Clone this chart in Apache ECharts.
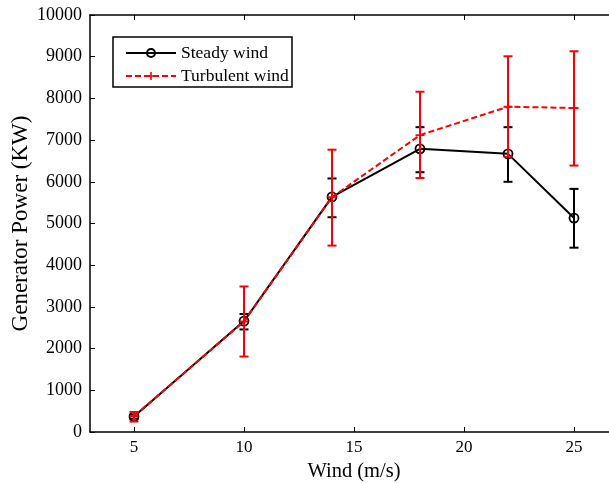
<!DOCTYPE html>
<html>
<head>
<meta charset="utf-8">
<script src="https://cdn.jsdelivr.net/npm/echarts@6/dist/echarts.min.js"></script>
<style>
  html, body { margin: 0; padding: 0; background: #fff; }
  #chart { width: 609px; height: 483px; }
</style>
</head>
<body>
<div id="chart"></div>
<script>
// wind speeds (m/s)
var winds = [5, 10, 14, 18, 22, 25]
// steady wind: mean power and error bar ends (KW)
var steadyPower = [370, 2660, 5640, 6790, 6670, 5130]
var steadyLow = [320, 2460, 5150, 6230, 6000, 4420]
var steadyHigh = [420, 2830, 6080, 7310, 7310, 5830]
// turbulent wind
var turbPower = [380, 2650, 5630, 7120, 7800, 7770]
var turbLow = [250, 1810, 4470, 6090, 6600, 6390]
var turbHigh = [480, 3490, 6770, 8160, 9010, 9130]
var xTicks = [5, 10, 15, 20, 25]

var FONT = 'Liberation Serif'

function pairs(xs, ys) {
  return xs.map(function (x, i) { return [x, ys[i]] })
}
function bars(xs, lo, hi) {
  return xs.map(function (x, i) { return [x, lo[i], hi[i]] })
}

// error bar: vertical line plus two caps
function errorBar(color) {
  return function (params, api) {
    var top = api.coord([api.value(0), api.value(2)])
    var bot = api.coord([api.value(0), api.value(1)])
    var w = 4.5
    var st = { stroke: color, lineWidth: 2 }
    return {
      type: 'group',
      children: [
        { type: 'line', shape: { x1: top[0], y1: top[1], x2: bot[0], y2: bot[1] }, style: st },
        { type: 'line', shape: { x1: top[0] - w, y1: top[1], x2: top[0] + w, y2: top[1] }, style: st },
        { type: 'line', shape: { x1: bot[0] - w, y1: bot[1], x2: bot[0] + w, y2: bot[1] }, style: st }
      ]
    }
  }
}

var chart = echarts.init(document.getElementById('chart'))
chart.setOption({
  animation: false,
  backgroundColor: '#fff',
  grid: { left: 90, top: 15, right: -9, bottom: 51, outerBoundsMode: 'none', containLabel: false },
  legend: {
    orient: 'vertical',
    left: 120,
    top: 39,
    itemWidth: 50,
    itemHeight: 10,
    itemGap: 5,
    data: ['Steady wind', 'Turbulent wind'],
    textStyle: { fontFamily: FONT, fontSize: 17.5, color: '#000' }
  },
  graphic: [{
    type: 'rect',
    shape: { x: 113, y: 37, width: 179, height: 50 },
    style: { fill: 'none', stroke: '#000', lineWidth: 1.5 },
    z: 0
  }],
  xAxis: [{
    type: 'value',
    min: 3,
    max: 27,
    name: 'Wind (m/s)',
    nameLocation: 'middle',
    nameGap: 29,
    nameMoveOverlap: false,
    nameTextStyle: { fontFamily: FONT, fontSize: 20.5, color: '#000' },
    axisLine: { lineStyle: { color: '#000', width: 1.5 } },
    axisTick: { inside: true, length: 5, customValues: xTicks, lineStyle: { color: '#000' } },
    axisLabel: { customValues: xTicks, fontFamily: FONT, fontSize: 17, color: '#000', margin: 7 },
    splitLine: { show: false }
  }, {
    type: 'value',
    position: 'top',
    min: 3,
    max: 27,
    axisLine: { onZero: false, lineStyle: { color: '#000', width: 1.5 } },
    axisTick: { inside: true, length: 5, customValues: xTicks, lineStyle: { color: '#000' } },
    axisLabel: { show: false },
    splitLine: { show: false }
  }],
  yAxis: {
    type: 'value',
    min: 0,
    max: 10000,
    interval: 1000,
    name: 'Generator Power (KW)',
    nameLocation: 'middle',
    nameGap: 58,
    nameMoveOverlap: false,
    nameTextStyle: { fontFamily: FONT, fontSize: 23, color: '#000' },
    axisLine: { show: true, lineStyle: { color: '#000', width: 1.5 } },
    axisTick: { show: true, inside: true, length: 5, lineStyle: { color: '#000' } },
    axisLabel: {
      fontFamily: FONT, fontSize: 18, color: '#000', margin: 8,
      formatter: function (v) { return String(v) }
    },
    splitLine: { show: false }
  },
  series: [
    {
      type: 'custom',
      name: 'steadyErr',
      renderItem: errorBar('#000'),
      data: bars(winds, steadyLow, steadyHigh),
      z: 2
    },
    {
      name: 'Steady wind',
      type: 'line',
      data: pairs(winds, steadyPower),
      symbol: 'circle',
      symbolSize: 9,
      lineStyle: { color: '#000', width: 2 },
      itemStyle: { color: 'rgba(0,0,0,0)', borderColor: '#000', borderWidth: 1.8 },
      z: 3
    },
    {
      type: 'custom',
      name: 'turbErr',
      renderItem: errorBar('#ff0000'),
      data: bars(winds, turbLow, turbHigh),
      z: 4
    },
    {
      name: 'Turbulent wind',
      type: 'line',
      data: pairs(winds, turbPower),
      symbol: 'path://M4,0h2v4h4v2h-4v4h-2v-4h-4v-2h4z',
      symbolSize: 9,
      lineStyle: { color: '#ff0000', width: 2, type: [6, 3] },
      itemStyle: { color: '#ff0000' },
      z: 5
    }
  ]
})
</script>
</body>
</html>
